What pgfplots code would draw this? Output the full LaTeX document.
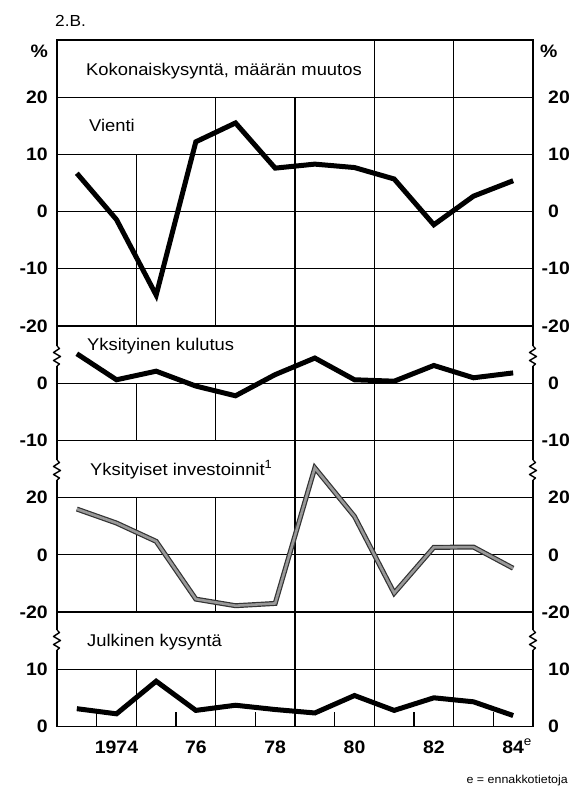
\documentclass[border=0pt]{standalone}
\usepackage{fontspec}
\setmainfont{Liberation Sans}[FakeStretch=1.08]
\usepackage{pgfplots}
\pgfplotsset{compat=1.18}

\newcommand{\ticklab}{\bfseries\fontsize{18}{18}\selectfont}
\newcommand{\lab}{\fontsize{17}{20}\selectfont}

\pgfplotsset{
  panel/.style={
    scale only axis, width=476pt, xmin=1972.5, xmax=1984.5,
    axis line style={line width=1.7pt},
    ymajorgrids, grid style={line width=1.1pt, black},
    xtick=\empty, major tick length=0pt,
    yticklabel style={font=\ticklab, anchor=east, inner sep=0pt, xshift=-9pt},
    /pgf/number format/assume math mode=true,
    anchor=north west,
  },
  rpanel/.style={
    scale only axis, width=476pt, xmin=1972.5, xmax=1984.5,
    axis line style={draw=none},
    xtick=\empty, major tick length=0pt,
    yticklabel pos=right,
    yticklabel style={font=\ticklab, anchor=west, inner sep=0pt, xshift=15pt},
    anchor=north west,
  },
  dataline/.style={black, line width=5pt},
}
\tikzset{gl/.style={black, line width=1.1pt}}
\newcommand{\vl}[3]{\draw[gl] (axis cs:#1,#2) -- (axis cs:#1,#3);}

\begin{document}
\begin{tikzpicture}
\path[use as bounding box] (0pt,0pt) rectangle (576pt,-786pt);

% ---------- Panel 1: Vienti ----------
\begin{axis}[panel, at={(57pt,-40pt)}, height=286pt, ymin=-20, ymax=30,
  ytick={-20,-10,0,10,20}]
\vl{1974.5}{-20}{10}\vl{1976.5}{-20}{20}\vl{1978.5}{-20}{20}\vl{1980.5}{-20}{30}\vl{1982.5}{-20}{30}
\addplot[dataline] coordinates {(1973,6.7)(1974,-1.4)(1975,-14.6)(1976,12.2)(1977,15.5)(1978,7.6)(1979,8.3)(1980,7.7)(1981,5.7)(1982,-2.3)(1983,2.7)(1984,5.4)};
\end{axis}
\begin{axis}[rpanel, at={(57pt,-40pt)}, height=286pt, ymin=-20, ymax=30,
  ytick={-20,-10,0,10,20}, yticklabels={\llap{-}20,\llap{-}10,0,10,20}]
\end{axis}

% ---------- Panel 2: Yksityinen kulutus ----------
\begin{axis}[panel, at={(57pt,-326pt)}, height=114.4pt, ymin=-10, ymax=10,
  ytick={-10,0}]
\vl{1974.5}{-10}{0}\vl{1976.5}{-10}{0}\vl{1978.5}{-10}{10}\vl{1980.5}{-10}{10}\vl{1982.5}{-10}{10}
\addplot[dataline] coordinates {(1973,5.15)(1974,0.6)(1975,2.1)(1976,-0.5)(1977,-2.2)(1978,1.5)(1979,4.4)(1980,0.6)(1981,0.35)(1982,3.1)(1983,0.95)(1984,1.8)};
\end{axis}
\begin{axis}[rpanel, at={(57pt,-326pt)}, height=114.4pt, ymin=-10, ymax=10,
  ytick={-10,0}, yticklabels={\llap{-}10,0}]
\end{axis}

% ---------- Panel 3: Yksityiset investoinnit ----------
\begin{axis}[panel, at={(57pt,-440.4pt)}, height=171.6pt, ymin=-20, ymax=40,
  ytick={-20,0,20}]
\vl{1974.5}{-20}{20}\vl{1976.5}{-20}{20}\vl{1978.5}{-20}{40}\vl{1980.5}{-20}{40}\vl{1982.5}{-20}{40}
\addplot[black!80, line width=5pt] coordinates {(1973,16)(1974,11.1)(1975,4.7)(1976,-15.5)(1977,-17.8)(1978,-17)(1979,30.4)(1980,13.4)(1981,-13.4)(1982,2.6)(1983,2.7)(1984,-4.7)};
\addplot[black!40, line width=2.6pt] coordinates {(1973,16)(1974,11.1)(1975,4.7)(1976,-15.5)(1977,-17.8)(1978,-17)(1979,30.4)(1980,13.4)(1981,-13.4)(1982,2.6)(1983,2.7)(1984,-4.7)};
\end{axis}
\begin{axis}[rpanel, at={(57pt,-440.4pt)}, height=171.6pt, ymin=-20, ymax=40,
  ytick={-20,0,20}, yticklabels={\llap{-}20,0,20}]
\end{axis}

% ---------- Panel 4: Julkinen kysyntä ----------
\begin{axis}[panel, at={(57pt,-612pt)}, height=114.4pt, ymin=0, ymax=20,
  ytick={0,10},
  xtick={1974,1976,1978,1980,1982,1984},
  xticklabels={1974,76,78,80,82,84\rlap{\raisebox{7.5pt}{\normalfont\fontsize{12.5}{12}\selectfont e}}},
  xticklabel style={font=\ticklab, anchor=base, inner sep=0pt, yshift=-26.8pt}]
\vl{1974.5}{0}{10}\vl{1976.5}{0}{10}\vl{1978.5}{0}{20}\vl{1980.5}{0}{20}\vl{1982.5}{0}{20}
\foreach \t in {1973.5,1975.5,1977.5,1979.5,1981.5,1983.5}{\edef\tmp{\noexpand\vl{\t}{0}{2.6}}\tmp}
\addplot[dataline] coordinates {(1973,3.1)(1974,2.2)(1975,7.9)(1976,2.8)(1977,3.7)(1978,2.95)(1979,2.35)(1980,5.4)(1981,2.8)(1982,5.0)(1983,4.3)(1984,1.9)};
\end{axis}
\begin{axis}[rpanel, at={(57pt,-612pt)}, height=114.4pt, ymin=0, ymax=20,
  ytick={0,10}, yticklabels={0,10}]
\end{axis}

% ---------- texts ----------
\node[anchor=base west, inner sep=0pt, font=\fontsize{16}{16}\selectfont] at (55pt,-27pt) {2.B.};
\node[anchor=base east, inner sep=0pt, font=\ticklab] at (48pt,-58pt) {\%};
\node[anchor=base west, inner sep=0pt, font=\ticklab] at (540pt,-58pt) {\%};
\node[anchor=base west, inner sep=0pt, font=\lab] at (86pt,-76pt) {Kokonaiskysyntä, määrän muutos};
\node[anchor=base west, inner sep=0pt, font=\lab] at (89pt,-131.7pt) {Vienti};
\node[anchor=base west, inner sep=0pt, font=\lab] at (87pt,-350.7pt) {Yksityinen kulutus};
\node[anchor=base west, inner sep=0pt, font=\lab] at (90pt,-475pt) {Yksityiset investoinnit\textsuperscript{1}};
\node[anchor=base west, inner sep=0pt, font=\lab] at (87pt,-646pt) {Julkinen kysyntä};
\node[anchor=base east, inner sep=0pt, font=\fontsize{11.5}{12}\selectfont] at (568pt,-783pt) {e = ennakkotietoja};

% ---------- axis breaks ----------
\foreach \yc in {356,470,640}{
  \foreach \xc in {57,533}{
    \fill[white] (\xc pt-2pt,-\yc pt+10pt) rectangle (\xc pt+2pt,-\yc pt-10pt);
    \draw[black, line width=1.4pt, line join=round]
      (\xc pt,-\yc pt+10pt) -- (\xc pt+2.5pt,-\yc pt+7.5pt) -- (\xc pt-3.5pt,-\yc pt+3.5pt)
      -- (\xc pt+3.5pt,-\yc pt-0.5pt) -- (\xc pt-3.5pt,-\yc pt-4.5pt) -- (\xc pt+2.5pt,-\yc pt-8pt)
      -- (\xc pt,-\yc pt-10pt);
  }
}
\end{tikzpicture}
\end{document}
